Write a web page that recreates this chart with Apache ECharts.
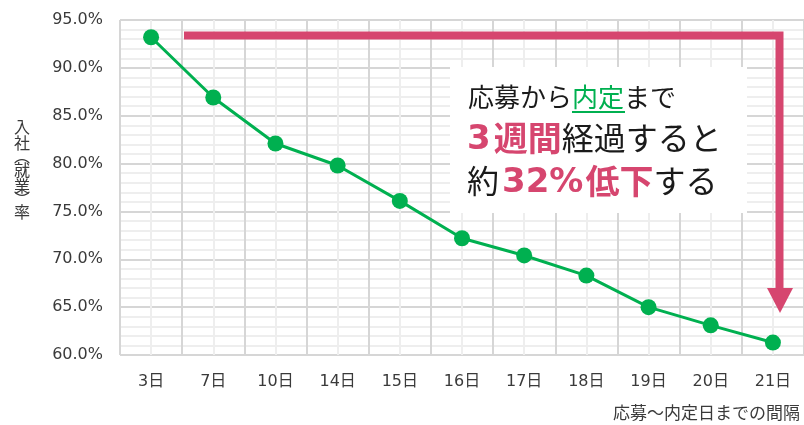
<!DOCTYPE html>
<html>
<head>
<meta charset="utf-8">
<script src="https://cdn.jsdelivr.net/npm/echarts@6/dist/echarts.min.js"></script>
<style>
  html, body { margin: 0; padding: 0; background: #fff; }
  #chart { width: 804px; height: 425px; }
</style>
</head>
<body>
<div id="chart"></div>
<script>
  // 応募～内定日までの間隔
  var days = ['3日', '7日', '10日', '14日', '15日', '16日', '17日', '18日', '19日', '20日', '21日'];
  // 入社（就業）率 %
  var rates = [93.2, 86.9, 82.1, 79.8, 76.1, 72.2, 70.4, 68.3, 65.0, 63.1, 61.3];
  var yMin = 60, yMax = 95, yStep = 5;

  var FONT = '"Noto Sans CJK JP", "Noto Sans", sans-serif';
  var NUMFONT = '"DejaVu Sans", "Noto Sans CJK JP", sans-serif';
  var PINK = '#d6466f';
  var GREEN = '#00b050';
  var TXT = '#3a3a3a';

  var myChart = echarts.init(document.getElementById('chart'));

  // vertical axis title, one glyph per row
  var yName = [['入', 127], ['社', 143], ['︵', 156], ['就', 170], ['業', 186], ['︶', 199], ['率', 212]];
  var yNameTexts = yName.map(function (c) {
    return {
      type: 'text', z: 70, x: 22, y: c[1],
      style: { text: c[0], align: 'center', verticalAlign: 'middle', fontSize: 16, fontFamily: FONT, fill: TXT }
    };
  });

  var option = {
    animation: false,
    grid: { left: 120, right: -6, top: 20, bottom: 70 },
    xAxis: [
      {
        type: 'category',
        data: days,
        boundaryGap: true,
        axisLine: { show: false },
        axisTick: { show: false },
        splitLine: { show: false },
        axisLabel: { color: TXT, fontSize: 16, fontFamily: NUMFONT, margin: 19 }
      },
      {
        // sheet-like background columns (boundaries dark, centers light)
        type: 'value',
        min: 0, max: 22, interval: 1,
        position: 'bottom',
        axisLine: { show: false },
        axisTick: { show: false },
        axisLabel: { show: false },
        splitLine: { show: true, lineStyle: { color: ['#d6d6d6', '#eeeeee'], width: 2 } }
      }
    ],
    yAxis: {
      type: 'value',
      min: yMin, max: yMax, interval: yStep,
      axisLine: { show: false },
      axisTick: { show: false },
      axisLabel: {
        color: TXT, fontSize: 16, fontFamily: NUMFONT, margin: 17,
        formatter: function (v) { return v.toFixed(1) + '%'; }
      },
      splitLine: { lineStyle: { color: '#d6d6d6', width: 2 } },
      minorTick: { show: false, splitNumber: 5 },
      minorSplitLine: { show: true, lineStyle: { color: '#eeeeee', width: 2 } }
    },
    series: [
      {
        type: 'line',
        xAxisIndex: 0,
        data: rates,
        symbol: 'circle',
        symbolSize: 16,
        lineStyle: { color: GREEN, width: 3 },
        itemStyle: { color: GREEN }
      }
    ],
    graphic: [
      // white text box
      { type: 'rect', z: 50, shape: { x: 450, y: 67, width: 297, height: 146 }, style: { fill: '#fff' } },
      // arrow
      {
        type: 'polyline', z: 60,
        shape: { points: [[184, 35.5], [779.5, 35.5], [779.5, 292]] },
        style: { stroke: PINK, lineWidth: 8, fill: null, lineJoin: 'miter' }
      },
      {
        type: 'polygon', z: 60,
        shape: { points: [[767, 288], [793, 288], [780, 313]] },
        style: { fill: PINK }
      },
      // annotation text
      {
        type: 'text', z: 70, x: 468, y: 97,
        style: {
          text: '{n|応募から}{g|内定}{n|まで}',
          verticalAlign: 'middle',
          rich: {
            n: { fontSize: 26, fontFamily: FONT, fill: '#1a1a1a' },
            g: { fontSize: 26, fontFamily: FONT, fill: GREEN }
          }
        }
      },
      { type: 'line', z: 70, shape: { x1: 572, y1: 112, x2: 625, y2: 112 }, style: { stroke: GREEN, lineWidth: 2 } },
      {
        type: 'text', z: 70, x: 467, y: 138,
        style: {
          text: '{d|3}{b|週間}{n|経過すると}',
          verticalAlign: 'middle',
          rich: {
            d: { fontSize: 34, fontWeight: 'bold', fontFamily: NUMFONT, fill: PINK, padding: [4, 3, 0, 0] },
            b: { fontSize: 34, fontWeight: 'bold', fontFamily: FONT, fill: PINK },
            n: { fontSize: 32, fontFamily: FONT, fill: '#1a1a1a' }
          }
        }
      },
      {
        type: 'text', z: 70, x: 467, y: 181,
        style: {
          text: '{n|約}{d|32%}{b|低下}{n|する}',
          verticalAlign: 'middle',
          rich: {
            d: { fontSize: 34, fontWeight: 'bold', fontFamily: NUMFONT, fill: PINK, padding: [4, 2, 0, 3] },
            b: { fontSize: 34, fontWeight: 'bold', fontFamily: FONT, fill: PINK },
            n: { fontSize: 32, fontFamily: FONT, fill: '#1a1a1a' }
          }
        }
      },
      // x axis title
      {
        type: 'text', z: 70, x: 800, y: 413,
        style: {
          text: '応募～内定日までの間隔',
          align: 'right', verticalAlign: 'middle',
          fontSize: 17, fontFamily: FONT, fill: TXT
        }
      }
    ].concat(yNameTexts)
  };

  myChart.setOption(option);
</script>
</body>
</html>
